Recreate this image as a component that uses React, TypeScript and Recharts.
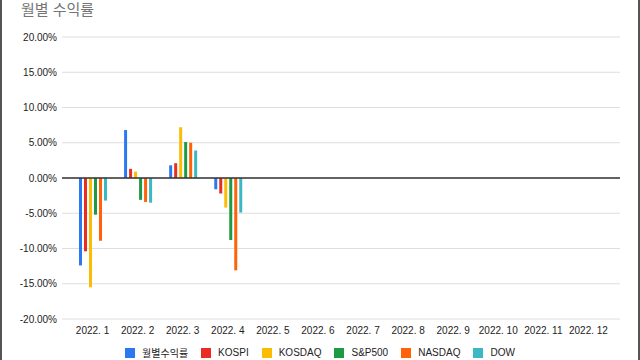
import { BarChart, Bar, XAxis, YAxis, CartesianGrid, Legend, ReferenceLine } from 'recharts';

const months = ['2022. 1', '2022. 2', '2022. 3', '2022. 4', '2022. 5', '2022. 6', '2022. 7', '2022. 8', '2022. 9', '2022. 10', '2022. 11', '2022. 12'];

// 월별 수익률 (%), 1~4월만 값이 있음
const monthly = [-12.4, 6.8, 1.8, -1.6];
const kospi = [-10.4, 1.3, 2.1, -2.2];
const kosdaq = [-15.5, 0.9, 7.2, -4.2];
const sp500 = [-5.2, -3.1, 5.1, -8.8];
const nasdaq = [-8.9, -3.4, 5.0, -13.1];
const dow = [-3.2, -3.5, 3.9, -4.9];

const yTicks = [-20, -15, -10, -5, 0, 5, 10, 15, 20];

const series = [
  { key: 'monthly', name: '월별수익률', color: '#2b78f0', values: monthly },
  { key: 'kospi', name: 'KOSPI', color: '#ea2d22', values: kospi },
  { key: 'kosdaq', name: 'KOSDAQ', color: '#fbbc04', values: kosdaq },
  { key: 'sp500', name: 'S&P500', color: '#1e9a45', values: sp500 },
  { key: 'nasdaq', name: 'NASDAQ', color: '#ff6208', values: nasdaq },
  { key: 'dow', name: 'DOW', color: '#3cb8c4', values: dow },
];

const data = months.map((m, i) => {
  const row: Record<string, string | number | null> = { month: m };
  series.forEach((s) => {
    row[s.key] = i < s.values.length ? s.values[i] : null;
  });
  return row;
});

const FONT = '"Liberation Sans", Arial, "Noto Sans CJK KR", sans-serif';

function LegendContent() {
  return (
    <div style={{ display: 'flex', justifyContent: 'center', alignItems: 'center', fontFamily: FONT, fontSize: 10, color: '#222', paddingTop: 6, paddingLeft: 33 }}>
      {series.map((s) => (
        <div key={s.key} style={{ display: 'flex', alignItems: 'center', marginRight: 13 }}>
          <span style={{ width: 10, height: 10, background: s.color, display: 'inline-block', marginRight: 7 }} />
          <span>{s.name}</span>
        </div>
      ))}
    </div>
  );
}

export default function App() {
  return (
    <div style={{ position: 'absolute', left: 0, top: 0, width: 640, height: 360, background: '#fff', fontFamily: FONT }}>
      <div style={{ position: 'absolute', left: 21, top: 0, fontSize: 15, lineHeight: '20px', color: '#757575', zIndex: 2 }}>
        월별 수익률
      </div>
      <BarChart
        width={640}
        height={360}
        data={data}
        margin={{ top: 37, right: 20, left: 0, bottom: 0 }}
        barSize={3}
        barGap={2}
      >
        <CartesianGrid vertical={false} stroke="#dedede" />
        <XAxis
          dataKey="month"
          axisLine={false}
          tickLine={false}
          tickSize={0}
          tickMargin={8}
          height={20}
          interval={0}
          padding={{ left: 8, right: 9 }}
          tick={{ fontSize: 10, fill: '#222', fontFamily: FONT }}
        />
        <YAxis
          domain={[-20, 20]}
          ticks={yTicks}
          axisLine={false}
          tickLine={false}
          tickSize={0}
          tickMargin={5}
          width={62}
          tickFormatter={(v) => `${Number(v).toFixed(2)}%`}
          tick={{ fontSize: 10, fill: '#222', fontFamily: FONT }}
        />
        <Legend verticalAlign="bottom" height={21} content={<LegendContent />} />
        {series.map((s) => (
          <Bar key={s.key} dataKey={s.key} name={s.name} fill={s.color} isAnimationActive={false} />
        ))}
        <ReferenceLine y={0} stroke="#333" strokeWidth={1.5} />
      </BarChart>
      <div style={{ position: 'absolute', left: 0, top: 0, width: 2, height: 360, background: '#555' }} />
      <div style={{ position: 'absolute', right: 0, top: 0, width: 2, height: 360, background: '#555' }} />
    </div>
  );
}
